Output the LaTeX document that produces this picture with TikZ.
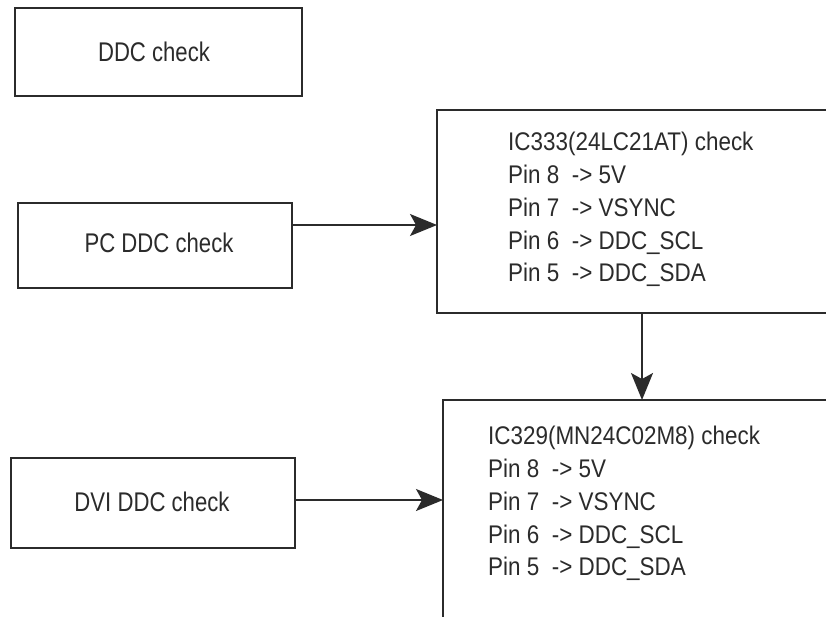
\documentclass[tikz,border=0pt]{standalone}
\usepackage{fontspec}
\setmainfont{Liberation Sans}[FakeStretch=0.82]
\newfontfamily\pinfont{Liberation Sans}[FakeStretch=0.88]
\usetikzlibrary{arrows.meta,calc}
\definecolor{ink}{HTML}{2B2B2B}
\tikzset{
  box/.style={draw=ink, line width=1.5pt, rectangle, inner sep=0pt, outer sep=0pt},
  lbl/.style={font=\fontsize{27}{32}\selectfont, text=ink, inner sep=0pt},
  pins/.style={font=\pinfont\fontsize{25.5}{32.8}\selectfont, text=ink, align=left, inner sep=0pt, anchor=north west},
  arr/.style={draw=ink, line width=1.5pt, -{Stealth[length=27pt,width=22pt,inset=6pt]}}
}
\begin{document}
\begin{tikzpicture}[x=1pt,y=-1pt]
\clip (0,0) rectangle (826,617);
\fill[white] (0,0) rectangle (826,617);
% left boxes
\node[box, minimum width=287pt, minimum height=88pt] (ddc) at (158.5,52) {};
\node[lbl] (ddct) at (154,52) {DDC check};
\node[box, minimum width=274pt, minimum height=85pt] (pc) at (155,245.5) {};
\node[lbl] (pct) at (159,243) {PC DDC check};
\node[box, minimum width=284pt, minimum height=90pt] (dvi) at (153,503) {};
\node[lbl] (dvit) at (152,502) {DVI DDC check};
% IC boxes (extend past the picture edge)
\node[box, minimum width=400pt, minimum height=203pt, anchor=north west] (ic333) at (437,110) {};
\node[pins] (ic333t) at (508,132) {IC333(24LC21AT) check\\Pin 8\ \ -> 5V\\Pin 7\ \ -> VSYNC\\Pin 6\ \ -> DDC\_SCL\\Pin 5\ \ -> DDC\_SDA};
\node[box, minimum width=400pt, minimum height=260pt, anchor=north west] (ic329) at (443,400) {};
\node[pins] (ic329t) at (488,426) {IC329(MN24C02M8) check\\Pin 8\ \ -> 5V\\Pin 7\ \ -> VSYNC\\Pin 6\ \ -> DDC\_SCL\\Pin 5\ \ -> DDC\_SDA};
% connectors
\coordinate (a1) at (pc.east |- 0,225);
\draw[arr] (a1) -- (a1 -| ic333.west);
\coordinate (a2) at (dvi.east |- 0,500);
\draw[arr] (a2) -- (a2 -| ic329.west);
\coordinate (a3) at (ic333.south -| 642,0);
\draw[arr] (a3) -- (a3 |- ic329.north);
\end{tikzpicture}
\end{document}
